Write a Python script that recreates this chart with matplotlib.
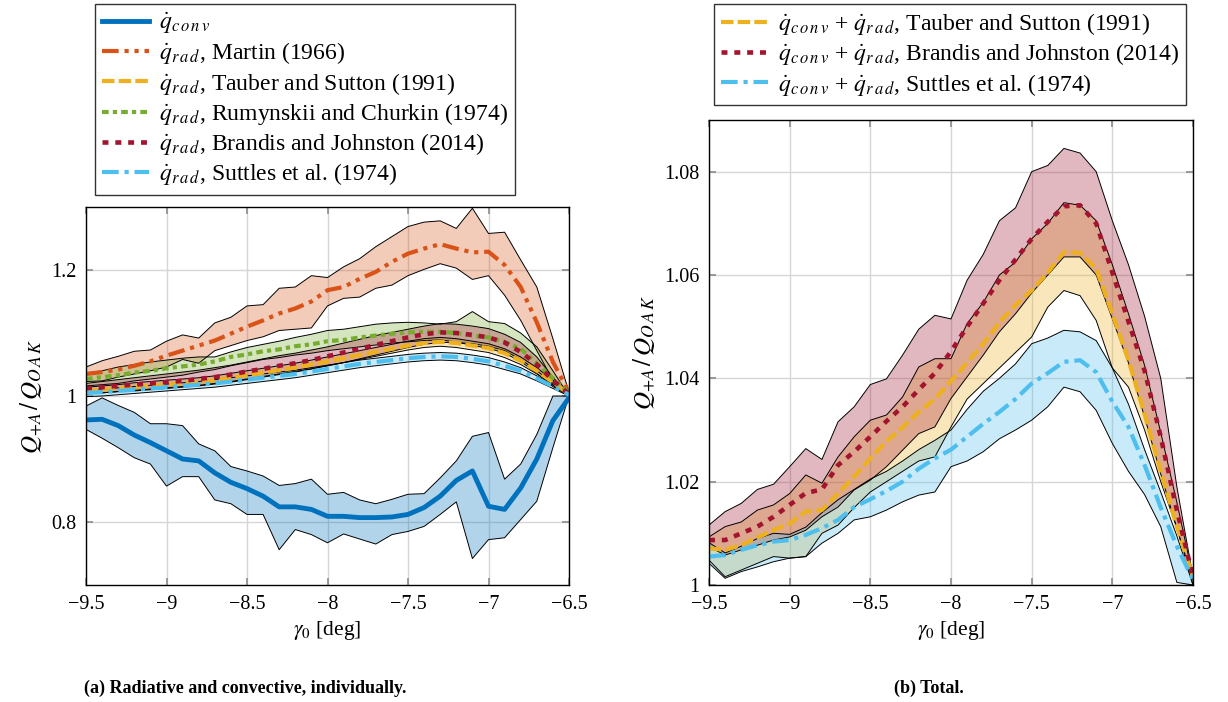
import matplotlib
matplotlib.use("Agg")
import matplotlib.pyplot as plt
from matplotlib.ticker import FuncFormatter

plt.rcParams["font.family"] = ["Liberation Serif", "DejaVu Serif"]
plt.rcParams["mathtext.fontset"] = "stix"

# angolo di rientro
gamma0 = [-9.5, -9.4, -9.3, -9.2, -9.1, -9.0, -8.9, -8.8, -8.7, -8.6, -8.5,
          -8.4, -8.3, -8.2, -8.1, -8.0, -7.9, -7.8, -7.7, -7.6, -7.5, -7.4,
          -7.3, -7.2, -7.1, -7.0, -6.9, -6.8, -6.7, -6.6, -6.5]

# --- (a) singoli contributi ---
conv_mid = [0.962, 0.963, 0.953, 0.938, 0.926, 0.913, 0.900, 0.897, 0.878, 0.863, 0.853,
            0.841, 0.824, 0.824, 0.820, 0.809, 0.809, 0.807, 0.807, 0.808, 0.812, 0.823,
            0.841, 0.866, 0.881, 0.825, 0.820, 0.854, 0.900, 0.961, 0.997]
conv_hi = [0.984, 0.997, 0.985, 0.974, 0.956, 0.956, 0.953, 0.924, 0.913, 0.888, 0.881,
           0.873, 0.858, 0.861, 0.868, 0.844, 0.847, 0.835, 0.829, 0.836, 0.844, 0.845,
           0.870, 0.897, 0.936, 0.942, 0.868, 0.892, 0.939, 1.000, 1.000]
conv_lo = [0.947, 0.933, 0.918, 0.902, 0.892, 0.857, 0.872, 0.872, 0.835, 0.829, 0.812,
           0.812, 0.756, 0.788, 0.780, 0.767, 0.781, 0.773, 0.765, 0.780, 0.785, 0.793,
           0.812, 0.832, 0.742, 0.772, 0.775, 0.804, 0.833, 0.918, 1.000]

mart_mid = [1.035, 1.038, 1.042, 1.048, 1.055, 1.064, 1.072, 1.080, 1.088, 1.099, 1.110,
            1.120, 1.131, 1.139, 1.150, 1.168, 1.173, 1.186, 1.197, 1.213, 1.226, 1.234,
            1.241, 1.234, 1.228, 1.229, 1.208, 1.173, 1.117, 1.054, 1.006]
mart_hi = [1.046, 1.056, 1.063, 1.071, 1.073, 1.087, 1.097, 1.092, 1.116, 1.125, 1.143,
           1.145, 1.171, 1.173, 1.191, 1.188, 1.205, 1.218, 1.237, 1.253, 1.269, 1.276,
           1.278, 1.266, 1.298, 1.258, 1.260, 1.216, 1.173, 1.091, 1.006]
mart_lo = [1.023, 1.024, 1.030, 1.035, 1.040, 1.046, 1.058, 1.052, 1.072, 1.080, 1.088,
           1.094, 1.104, 1.106, 1.108, 1.143, 1.155, 1.157, 1.171, 1.176, 1.191, 1.201,
           1.210, 1.203, 1.185, 1.191, 1.160, 1.120, 1.072, 1.025, 1.000]

tau_mid = [1.008, 1.010, 1.012, 1.014, 1.016, 1.018, 1.020, 1.022, 1.025, 1.029, 1.033,
           1.037, 1.041, 1.045, 1.050, 1.055, 1.060, 1.065, 1.070, 1.075, 1.080, 1.084,
           1.086, 1.084, 1.080, 1.076, 1.068, 1.056, 1.040, 1.022, 1.003]
tau_hi = [1.014, 1.016, 1.018, 1.021, 1.023, 1.025, 1.027, 1.029, 1.032, 1.036, 1.040,
          1.044, 1.048, 1.052, 1.057, 1.062, 1.067, 1.072, 1.077, 1.082, 1.087, 1.091,
          1.093, 1.091, 1.087, 1.083, 1.075, 1.062, 1.045, 1.025, 1.000]
tau_lo = [1.003, 1.005, 1.007, 1.008, 1.010, 1.012, 1.014, 1.016, 1.019, 1.022, 1.026,
          1.030, 1.034, 1.038, 1.043, 1.048, 1.053, 1.058, 1.063, 1.068, 1.073, 1.077,
          1.079, 1.077, 1.073, 1.069, 1.061, 1.050, 1.035, 1.018, 1.000]

rum_mid = [1.027, 1.030, 1.033, 1.037, 1.040, 1.044, 1.047, 1.050, 1.055, 1.062, 1.066,
           1.071, 1.074, 1.079, 1.082, 1.087, 1.089, 1.093, 1.096, 1.099, 1.101, 1.102,
           1.102, 1.100, 1.096, 1.093, 1.086, 1.075, 1.052, 1.028, 1.005]
rum_hi = [1.036, 1.040, 1.046, 1.050, 1.054, 1.057, 1.060, 1.062, 1.062, 1.070, 1.077,
          1.082, 1.087, 1.093, 1.098, 1.104, 1.106, 1.110, 1.114, 1.116, 1.117, 1.116,
          1.114, 1.118, 1.134, 1.118, 1.115, 1.100, 1.078, 1.040, 1.000]
rum_lo = [1.016, 1.018, 1.020, 1.024, 1.027, 1.030, 1.033, 1.038, 1.042, 1.048, 1.053,
          1.058, 1.061, 1.065, 1.068, 1.072, 1.075, 1.078, 1.081, 1.084, 1.086, 1.088,
          1.089, 1.086, 1.080, 1.076, 1.068, 1.055, 1.036, 1.015, 1.000]

bra_mid = [1.012, 1.014, 1.016, 1.018, 1.020, 1.022, 1.024, 1.027, 1.030, 1.034, 1.039,
           1.043, 1.048, 1.052, 1.057, 1.063, 1.069, 1.075, 1.081, 1.087, 1.093, 1.098,
           1.101, 1.100, 1.097, 1.093, 1.085, 1.070, 1.050, 1.025, 1.003]
bra_hi = [1.020, 1.023, 1.026, 1.029, 1.032, 1.035, 1.038, 1.041, 1.045, 1.049, 1.054,
          1.059, 1.064, 1.068, 1.073, 1.078, 1.084, 1.090, 1.096, 1.101, 1.106, 1.111,
          1.115, 1.114, 1.111, 1.107, 1.098, 1.085, 1.062, 1.030, 1.000]
bra_lo = [1.004, 1.005, 1.007, 1.009, 1.011, 1.013, 1.015, 1.017, 1.020, 1.023, 1.027,
          1.031, 1.035, 1.039, 1.043, 1.048, 1.053, 1.059, 1.065, 1.071, 1.077, 1.082,
          1.085, 1.085, 1.083, 1.079, 1.072, 1.058, 1.040, 1.020, 1.000]

sut_mid = [1.005, 1.006, 1.008, 1.010, 1.012, 1.014, 1.016, 1.018, 1.020, 1.023, 1.026,
           1.029, 1.032, 1.035, 1.039, 1.043, 1.047, 1.051, 1.054, 1.057, 1.060, 1.062,
           1.063, 1.062, 1.059, 1.055, 1.048, 1.040, 1.028, 1.015, 1.002]
sut_hi = [1.010, 1.011, 1.013, 1.015, 1.017, 1.019, 1.021, 1.023, 1.026, 1.029, 1.032,
          1.035, 1.038, 1.041, 1.045, 1.049, 1.053, 1.057, 1.060, 1.063, 1.066, 1.068,
          1.069, 1.068, 1.065, 1.061, 1.054, 1.045, 1.032, 1.017, 1.000]
sut_lo = [0.999, 1.000, 1.002, 1.004, 1.006, 1.008, 1.010, 1.012, 1.014, 1.017, 1.020,
          1.023, 1.026, 1.029, 1.033, 1.037, 1.041, 1.045, 1.048, 1.051, 1.054, 1.056,
          1.057, 1.056, 1.053, 1.049, 1.042, 1.035, 1.024, 1.012, 1.000]

# --- (b) totale conv + rad ---
tot_tau_mid = [1.0071, 1.0068, 1.0077, 1.0092, 1.0106, 1.0119, 1.0142, 1.0145, 1.0177, 1.0210, 1.0245,
               1.0278, 1.0305, 1.0335, 1.0360, 1.0395, 1.0430, 1.0467, 1.0508, 1.0542, 1.0570, 1.0605,
               1.0644, 1.0643, 1.0612, 1.0525, 1.0435, 1.0330, 1.0220, 1.0113, 1.0016]
tot_tau_hi = [1.0093, 1.0113, 1.0122, 1.0145, 1.0155, 1.0177, 1.0213, 1.0197, 1.0248, 1.0287, 1.0319,
              1.0329, 1.0364, 1.0422, 1.0438, 1.0438, 1.0506, 1.0547, 1.0600, 1.0625, 1.0670, 1.0700,
              1.0740, 1.0735, 1.0705, 1.0620, 1.0525, 1.0425, 1.0295, 1.0160, 1.0016]
tot_tau_lo = [1.0048, 1.0016, 1.0029, 1.0042, 1.0055, 1.0052, 1.0055, 1.0100, 1.0116, 1.0150, 1.0180,
              1.0200, 1.0220, 1.0240, 1.0248, 1.0306, 1.0360, 1.0390, 1.0420, 1.0450, 1.0480, 1.0538,
              1.0570, 1.0560, 1.0512, 1.0420, 1.0383, 1.0300, 1.0200, 1.0110, 1.0000]

tot_bra_mid = [1.0087, 1.0087, 1.0100, 1.0113, 1.0132, 1.0155, 1.0178, 1.0185, 1.0232, 1.0258, 1.0287,
               1.0317, 1.0345, 1.0378, 1.0410, 1.0452, 1.0500, 1.0545, 1.0590, 1.0630, 1.0670, 1.0703,
               1.0733, 1.0735, 1.0700, 1.0605, 1.0510, 1.0415, 1.0287, 1.0145, 1.0016]
tot_bra_hi = [1.0116, 1.0142, 1.0158, 1.0185, 1.0195, 1.0229, 1.0264, 1.0243, 1.0316, 1.0345, 1.0388,
              1.0399, 1.0445, 1.0495, 1.0522, 1.0515, 1.0590, 1.0640, 1.0705, 1.0730, 1.0800, 1.0812,
              1.0845, 1.0836, 1.0800, 1.0705, 1.0620, 1.0520, 1.0400, 1.0190, 1.0016]
tot_bra_lo = [1.0074, 1.0058, 1.0068, 1.0077, 1.0087, 1.0093, 1.0106, 1.0132, 1.0151, 1.0184, 1.0203,
              1.0229, 1.0261, 1.0293, 1.0306, 1.0361, 1.0403, 1.0445, 1.0490, 1.0525, 1.0565, 1.0600,
              1.0635, 1.0635, 1.0600, 1.0515, 1.0430, 1.0325, 1.0215, 1.0110, 1.0010]

tot_sut_mid = [1.0055, 1.0058, 1.0068, 1.0077, 1.0084, 1.0087, 1.0097, 1.0110, 1.0126, 1.0151, 1.0166,
               1.0182, 1.0200, 1.0225, 1.0245, 1.0262, 1.0287, 1.0312, 1.0335, 1.0360, 1.0390, 1.0410,
               1.0432, 1.0435, 1.0412, 1.0355, 1.0306, 1.0232, 1.0150, 1.0075, 1.0010]
tot_sut_hi = [1.0082, 1.0062, 1.0075, 1.0090, 1.0100, 1.0098, 1.0112, 1.0140, 1.0165, 1.0185, 1.0205,
              1.0220, 1.0240, 1.0262, 1.0280, 1.0300, 1.0340, 1.0375, 1.0400, 1.0428, 1.0467, 1.0478,
              1.0493, 1.0490, 1.0473, 1.0420, 1.0350, 1.0262, 1.0180, 1.0095, 1.0000]
tot_sut_lo = [1.0042, 1.0013, 1.0026, 1.0035, 1.0045, 1.0052, 1.0055, 1.0081, 1.0100, 1.0126, 1.0132,
              1.0145, 1.0161, 1.0174, 1.0180, 1.0229, 1.0240, 1.0258, 1.0283, 1.0300, 1.0319, 1.0345,
              1.0383, 1.0374, 1.0338, 1.0274, 1.0220, 1.0175, 1.0113, 1.0005, 1.0000]

# colori e stili (palette MATLAB)
C_CONV, C_MART, C_TAU, C_RUM, C_BRA, C_SUT = "#0072BD", "#D95319", "#EDB120", "#77AC30", "#A2142F", "#4DBEEE"
LS_MART = (0, (4, 1.4, 1, 1.4, 1, 1.4))
LS_TAU = (0, (3, 1.0))
LS_RUM = (0, (1.6, 1.0, 1.0, 1.0))
LS_BRA = (0, (1.3, 1.5))
LS_SUT = (0, (4, 1.4, 1, 1.4))

QC = r"$\dot{q}_{c\,o\,n\,v}$"
QR = r"$\dot{q}_{r\,a\,d}$"


def banda(ax, lo, hi, col):
    ax.fill_between(gamma0, lo, hi, facecolor=col, alpha=0.3, edgecolor="none", zorder=2)
    ax.plot(gamma0, lo, color="k", lw=0.7, zorder=2.5)
    ax.plot(gamma0, hi, color="k", lw=0.7, zorder=2.5)


def fmt(v, _):
    return ("%g" % round(v, 3)).replace("-", "\u2212")


def assi(ax, ylim, yticks):
    ax.set_xlim(-9.5, -6.5)
    ax.set_ylim(*ylim)
    ax.set_xticks([-9.5, -9, -8.5, -8, -7.5, -7, -6.5])
    ax.set_yticks(yticks)
    ax.xaxis.set_major_formatter(FuncFormatter(fmt))
    ax.yaxis.set_major_formatter(FuncFormatter(fmt))
    ax.grid(True, color="0.84", lw=1.0, zorder=0)
    ax.set_axisbelow(True)
    ax.tick_params(direction="in", length=5, width=1.2, color="0.55", top=True, right=True,
                   labelsize=14.5, pad=7)
    for s in ax.spines.values():
        s.set_linewidth(1.0)
        s.set_zorder(5)
    ax.set_xlabel(r"$\gamma_0$ [deg]", fontsize=15.5, labelpad=4)
    ax.set_ylabel(r"$Q_{+A}\,/\,Q_{O\,A\,K}$", fontsize=18, labelpad=5)


def legenda(ax, xc):
    ax.legend(loc="upper center", bbox_to_anchor=(xc / 1228, 1 - 4 / 702), bbox_transform=fig.transFigure,
              fontsize=17, frameon=True, fancybox=False, edgecolor="0.2", framealpha=1,
              handlelength=2.0, labelspacing=0.18, borderpad=0.3, handletextpad=0.4,
              borderaxespad=0)


fig = plt.figure(figsize=(12.28, 7.02), dpi=100)
axA = fig.add_axes([86 / 1228, 117 / 702, 483 / 1228, 378 / 702])
axB = fig.add_axes([709 / 1228, 117 / 702, 484 / 1228, 465 / 702])

# (a)
for lo, hi, c in [(conv_lo, conv_hi, C_CONV), (mart_lo, mart_hi, C_MART), (tau_lo, tau_hi, C_TAU),
                  (rum_lo, rum_hi, C_RUM), (bra_lo, bra_hi, C_BRA), (sut_lo, sut_hi, C_SUT)]:
    banda(axA, lo, hi, c)
axA.plot(gamma0, conv_mid, color=C_CONV, lw=3.5, zorder=4, label=QC)
axA.plot(gamma0, mart_mid, color=C_MART, lw=3, ls=LS_MART, zorder=4, label=QR + ", Martin (1966)")
axA.plot(gamma0, tau_mid, color=C_TAU, lw=3, ls=LS_TAU, zorder=4, label=QR + ", Tauber and Sutton (1991)")
axA.plot(gamma0, rum_mid, color=C_RUM, lw=3, ls=LS_RUM, zorder=4, label=QR + ", Rumynskii and Churkin (1974)")
axA.plot(gamma0, bra_mid, color=C_BRA, lw=3.3, ls=LS_BRA, zorder=4, label=QR + ", Brandis and Johnston (2014)")
axA.plot(gamma0, sut_mid, color=C_SUT, lw=3, ls=LS_SUT, zorder=4, label=QR + ", Suttles et al. (1974)")
assi(axA, (0.7, 1.3), [0.8, 1.0, 1.2])
legenda(axA, 305)

# (b)
for lo, hi, c in [(tot_tau_lo, tot_tau_hi, C_TAU), (tot_bra_lo, tot_bra_hi, C_BRA),
                  (tot_sut_lo, tot_sut_hi, C_SUT)]:
    banda(axB, lo, hi, c)
axB.plot(gamma0, tot_tau_mid, color=C_TAU, lw=3, ls=LS_TAU, zorder=4,
         label=QC + " + " + QR + ", Tauber and Sutton (1991)")
axB.plot(gamma0, tot_bra_mid, color=C_BRA, lw=3.3, ls=LS_BRA, zorder=4,
         label=QC + " + " + QR + ", Brandis and Johnston (2014)")
axB.plot(gamma0, tot_sut_mid, color=C_SUT, lw=3, ls=LS_SUT, zorder=4,
         label=QC + " + " + QR + ", Suttles et al. (1974)")
assi(axB, (1.0, 1.09), [1.0, 1.02, 1.04, 1.06, 1.08])
legenda(axB, 950)

fig.text(245 / 1228, 1 - 688 / 702, "(a) Radiative and convective, individually.",
         ha="center", va="center", fontsize=13, weight="bold")
fig.text(929 / 1228, 1 - 688 / 702, "(b) Total.", ha="center", va="center", fontsize=13, weight="bold")

fig.savefig("out.png", dpi=100)
